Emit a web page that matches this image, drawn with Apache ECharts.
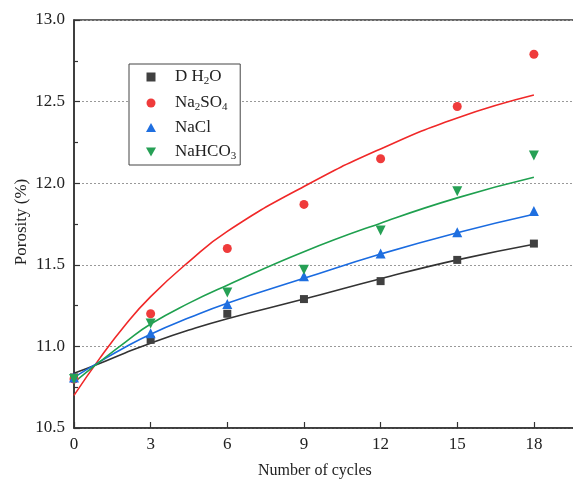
<!DOCTYPE html>
<html>
<head>
<meta charset="utf-8">
<script src="https://cdn.jsdelivr.net/npm/echarts@6/dist/echarts.min.js"></script>
<style>html,body{margin:0;padding:0;background:#fff}#c{width:573px;height:486px}</style>
</head>
<body>
<div id="c"></div>
<script>
// Measured data
var cycles = [0, 3, 6, 9, 12, 15, 18];
var dH2O   = [10.81, 11.04, 11.20, 11.29, 11.40, 11.53, 11.63];
var na2so4 = [10.80, 11.20, 11.60, 11.87, 12.15, 12.47, 12.79];
var nacl   = [10.81, 11.08, 11.26, 11.43, 11.57, 11.70, 11.83];
var nahco3 = [10.80, 11.14, 11.33, 11.47, 11.71, 11.95, 12.17];

// Fitted curves
var fitX      = [0, 1, 2, 3, 4.5, 6, 9, 12, 15, 18];
var fitDH2O   = [10.835, 10.895, 10.96, 11.02, 11.10, 11.17, 11.29, 11.415, 11.53, 11.626];
var fitNa2SO4 = [10.70, 10.925, 11.13, 11.305, 11.52, 11.705, 11.98, 12.21, 12.40, 12.54];
var fitNaCl   = [10.81, 10.905, 10.995, 11.075, 11.175, 11.265, 11.417, 11.566, 11.697, 11.81];
var fitNaHCO3 = [10.78, 10.905, 11.025, 11.137, 11.265, 11.375, 11.58, 11.755, 11.91, 12.036];

var xTicks = [0, 3, 6, 9, 12, 15, 18];
var yTicks = [10.5, 11.0, 11.5, 12.0, 12.5, 13.0];

function pairs(xs, ys) { return xs.map(function (x, i) { return [x, ys[i]]; }); }

var colors = { d: '#404040', s: '#ef3b3b', c: '#1f6fe0', h: '#26a055' };
var FONT = '"Liberation Serif", "Times New Roman", serif';

var chart = echarts.init(document.getElementById('c'), null, { renderer: 'canvas' });

var rich = {
  n: { fontFamily: FONT, fontSize: 17, color: '#222', lineHeight: 18 },
  s: { fontFamily: FONT, fontSize: 11, color: '#222', padding: [9, 0, 0, 0], lineHeight: 18 }
};
var legendLabels = {
  'D H2O': '{n|D H}{s|2}{n|O}',
  'Na2SO4': '{n|Na}{s|2}{n|SO}{s|4}',
  'NaCl': '{n|NaCl}',
  'NaHCO3': '{n|NaHCO}{s|3}'
};

var SQUARE = 'path://M0,0H10V10H0Z';
var TRI_UP = 'path://M5,0L10,9L0,9Z';
var TRI_DOWN = 'path://M0,0L10,0L5,9Z';

function scatter(name, data, symbol, size, color) {
  return {
    name: name, type: 'scatter', data: pairs(cycles, data),
    symbol: symbol, symbolSize: size, itemStyle: { color: color, opacity: 1 }, z: 5
  };
}
function fit(ys, color) {
  return {
    type: 'line', data: pairs(fitX, ys), smooth: 0.5, showSymbol: false, symbol: 'none',
    lineStyle: { color: color, width: 1.6 }, silent: true, z: 3
  };
}

chart.setOption({
  animation: false,
  backgroundColor: '#fff',
  grid: { left: 74, top: 20, right: -12, bottom: 58, containLabel: false, outerBoundsMode: 'none',
          show: true, borderColor: '#333', borderWidth: 1.5, backgroundColor: 'transparent' },
  xAxis: {
    type: 'value', min: 0, max: 20, interval: 3,
    axisLine: { show: true, lineStyle: { color: '#333', width: 1.5 } },
    axisTick: { show: true, inside: true, length: 6, lineStyle: { color: '#333', width: 1.2 } },
    axisLabel: {
      fontFamily: FONT, fontSize: 17, color: '#222', margin: 8,
      formatter: function (v) { return xTicks.indexOf(v) >= 0 ? String(v) : ''; }
    },
    splitLine: { show: false }
  },
  yAxis: {
    type: 'value', min: 10.5, max: 13.0, interval: 0.5,
    axisLine: { show: true, lineStyle: { color: '#333', width: 1.5 } },
    axisTick: { show: true, inside: true, length: 6, lineStyle: { color: '#333', width: 1.2 } },
    minorTick: { show: true, splitNumber: 2, length: 4, lineStyle: { color: '#333', width: 1.2 } },
    axisLabel: {
      fontFamily: FONT, fontSize: 17, color: '#222', margin: 9,
      formatter: function (v) { var i = yTicks.indexOf(v); return i >= 0 ? yTicks[i].toFixed(1) : ''; }
    },
    splitLine: { show: true, lineStyle: { color: '#999', type: [2, 2], width: 1 } }
  },
  legend: {
    orient: 'vertical', left: 129, top: 64,
    data: ['D H2O', 'Na2SO4', 'NaCl', 'NaHCO3'],
    itemWidth: 38, itemHeight: 9, itemGap: 6,
    padding: [3, 4, 3, 17],
    borderColor: '#444', borderWidth: 1, backgroundColor: '#fff',
    textStyle: { fontFamily: FONT, fontSize: 17, color: '#222', rich: rich },
    formatter: function (name) { return legendLabels[name]; }
  },
  graphic: [
    { type: 'text', left: 258, top: 463, style: { text: 'Number of cycles', font: '16px ' + FONT, fill: '#222' } },
    { type: 'text', x: 22, y: 222, rotation: Math.PI / 2, style: { text: 'Porosity (%)', font: '17px ' + FONT, fill: '#222', align: 'center', verticalAlign: 'middle' } }
  ],
  series: [
    fit(fitDH2O, '#333333'),
    fit(fitNa2SO4, '#f02828'),
    fit(fitNaCl, '#1a6be0'),
    fit(fitNaHCO3, '#1fa04f'),
    scatter('D H2O', dH2O, SQUARE, 8, colors.d),
    scatter('Na2SO4', na2so4, 'circle', 9, colors.s),
    scatter('NaCl', nacl, TRI_UP, 10, colors.c),
    scatter('NaHCO3', nahco3, TRI_DOWN, 10, colors.h)
  ]
});
</script>
</body>
</html>
